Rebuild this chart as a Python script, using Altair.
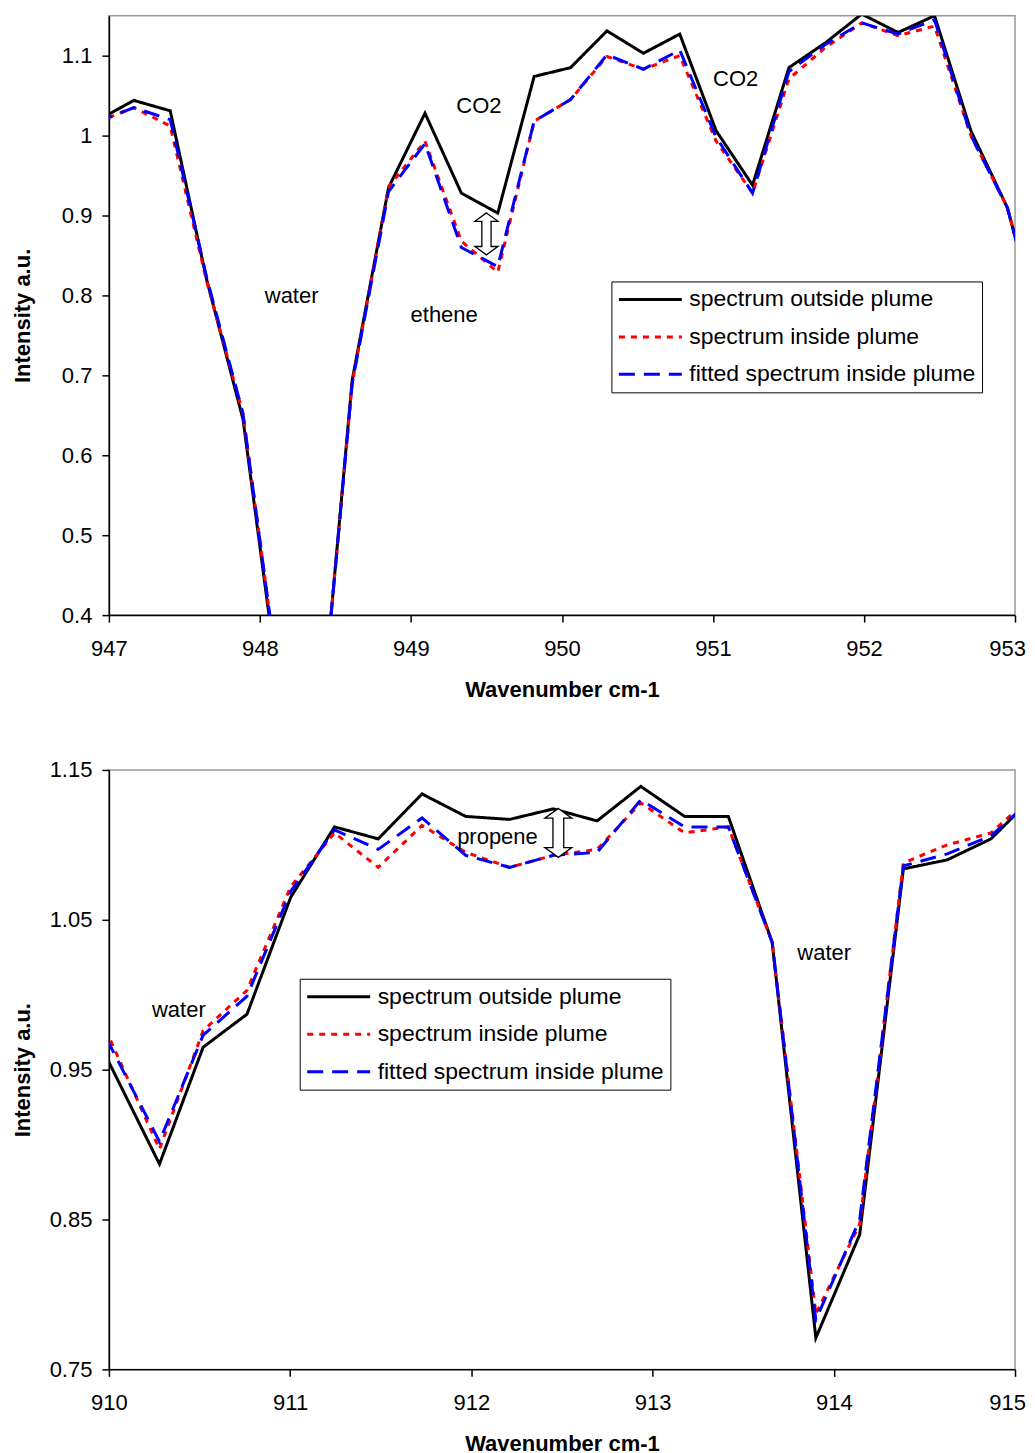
import altair as alt
import pandas as pd

# ---------------- data ----------------
series_names = ["spectrum outside plume", "spectrum inside plume", "fitted spectrum inside plume"]
series_colors = ["#000000", "#ff0000", "#0000ff"]
series_dash = [[1, 0], [6, 6], [16, 9]]

top_x = [946.924, 947.165, 947.406, 947.647, 947.888, 948.129, 948.370, 948.611, 948.852,
         949.093, 949.334, 949.575, 949.816, 950.057, 950.298, 950.539, 950.780, 951.021,
         951.262, 951.503, 951.744, 951.985, 952.226, 952.467, 952.708, 952.949, 953.190]
top_outside = [1.019, 1.044, 1.031, 0.820, 0.645, 0.302, 0.189, 0.694, 0.935,
               1.028, 0.928, 0.903, 1.074, 1.085, 1.131, 1.103, 1.127, 1.006,
               0.938, 1.085, 1.116, 1.152, 1.129, 1.150, 1.006, 0.910, 0.740]
top_inside = [1.017, 1.035, 1.012, 0.818, 0.652, 0.310, 0.190, 0.690, 0.936,
              0.993, 0.868, 0.829, 1.018, 1.045, 1.099, 1.083, 1.100, 0.993,
              0.928, 1.071, 1.110, 1.141, 1.125, 1.137, 1.000, 0.910, 0.740]
top_fitted = [1.017, 1.035, 1.020, 0.823, 0.652, 0.310, 0.190, 0.690, 0.930,
              0.990, 0.860, 0.836, 1.018, 1.045, 1.101, 1.083, 1.107, 0.998,
              0.928, 1.080, 1.114, 1.141, 1.127, 1.145, 1.000, 0.910, 0.740]

bot_x = [909.796, 910.037, 910.279, 910.520, 910.762, 911.003, 911.245, 911.486,
         911.728, 911.969, 912.211, 912.452, 912.694, 912.935, 913.177, 913.418,
         913.660, 913.901, 914.143, 914.384, 914.626, 914.867, 915.109]
bot_outside = [1.005, 0.946, 0.887, 0.965, 0.987, 1.065, 1.112, 1.104,
               1.134, 1.119, 1.117, 1.124, 1.116, 1.139, 1.119, 1.119,
               1.035, 0.771, 0.840, 1.084, 1.090, 1.104, 1.133]
bot_inside = [1.028, 0.962, 0.897, 0.976, 1.003, 1.072, 1.108, 1.085,
              1.113, 1.095, 1.085, 1.093, 1.097, 1.128, 1.108, 1.112,
              1.035, 0.787, 0.847, 1.088, 1.100, 1.108, 1.134]
bot_fitted = [1.015, 0.959, 0.902, 0.973, 0.999, 1.069, 1.110, 1.097,
              1.118, 1.093, 1.085, 1.093, 1.095, 1.130, 1.112, 1.112,
              1.035, 0.783, 0.850, 1.086, 1.094, 1.106, 1.132]

top_note_text = ["water", "ethene", "CO2", "CO2"]
top_note_x = [948.21, 949.22, 949.45, 951.15]
top_note_y = [0.799, 0.775, 1.0375, 1.071]
bot_note_text = ["water", "propene", "water"]
bot_note_x = [910.386, 912.144, 913.947]
bot_note_y = [0.990, 1.105, 1.028]

top_arrow_x = [949.50]
top_arrow_y = [0.877]
bot_arrow_x = [912.48]
bot_arrow_y = [1.108]

top_xticks = [947, 948, 949, 950, 951, 952, 953]
top_yticks = [0.4, 0.5, 0.6, 0.7, 0.8, 0.9, 1.0, 1.1]
bot_xticks = [910, 911, 912, 913, 914, 915]
bot_yticks = [0.75, 0.85, 0.95, 1.05, 1.15]

FONT = "Liberation Sans"
ARROW = ("M0,-1L0.55,-0.6L0.22,-0.6L0.22,0.6L0.55,0.6L0,1L-0.55,0.6L-0.22,0.6"
         "L-0.22,-0.6L-0.55,-0.6Z")
LEGEND_LINE = "M-1,0H5"


def long_df(xs, outside, inside, fitted):
    rows = []
    for name, vals in zip(series_names, [outside, inside, fitted]):
        for x, y in zip(xs, vals):
            rows.append({"x": x, "y": y, "series": name})
    return pd.DataFrame(rows)


def panel(xs, outside, inside, fitted, xdom, ydom, xticks, yticks, yfmt,
          lx, ly, nt, nx, ny, ax, ay, asize):
    df = long_df(xs, outside, inside, fitted)
    xenc = alt.X("x:Q",
                 scale=alt.Scale(domain=xdom, nice=False, zero=False),
                 axis=alt.Axis(values=xticks, format="d", title="Wavenumber cm-1",
                               titleY=74, titleBaseline="middle", labelFlush=False,
                               labelOverlap=False,
                               labelOffset={"condition": {"test": f"datum.value >= {xdom[1]}",
                                                          "value": -8},
                                            "value": 0},
                               labelBaseline="middle", labelPadding=26))
    yenc = alt.Y("y:Q",
                 scale=alt.Scale(domain=ydom, nice=False, zero=False),
                 axis=alt.Axis(values=yticks, format=yfmt, title="Intensity a.u.",
                               titleX=-86, titleY=300, titleBaseline="middle",
                               labelFlush=False, labelOverlap=False,
                               labelPadding=10))
    leg = alt.Legend(title=None, orient="none", legendX=lx, legendY=ly,
                     symbolType=LEGEND_LINE, symbolSize=441, symbolStrokeWidth=3,
                     labelFont=FONT, labelFontSize=23, labelColor="black",
                     labelLimit=500, labelOffset=48,
                     strokeColor="black", fillColor="white", padding=6,
                     rowPadding=13.5)
    lines = alt.Chart(df).mark_line(clip=True, strokeWidth=3).encode(
        x=xenc, y=yenc,
        color=alt.Color("series:N", sort=series_names,
                        scale=alt.Scale(domain=series_names, range=series_colors),
                        legend=leg),
        strokeDash=alt.StrokeDash("series:N", sort=series_names,
                                  scale=alt.Scale(domain=series_names, range=series_dash),
                                  legend=leg),
    )
    notes = alt.Chart(pd.DataFrame({"x": nx, "y": ny, "t": nt})).mark_text(
        font=FONT, fontSize=22, color="black").encode(x=xenc, y=yenc, text="t:N")
    arrow = alt.Chart(pd.DataFrame({"x": ax, "y": ay})).mark_point(
        shape=ARROW, filled=True, fill="white", stroke="black", strokeWidth=1.3,
        opacity=1).encode(x=xenc, y=yenc, size=alt.value(asize))
    return alt.layer(lines, notes, arrow).properties(width=907, height=600)


top = panel(top_x, top_outside, top_inside, top_fitted, [947, 953], [0.4, 1.15],
            top_xticks, top_yticks, ".1~f", 503, 266,
            top_note_text, top_note_x, top_note_y, top_arrow_x, top_arrow_y, 1764)
bottom = panel(bot_x, bot_outside, bot_inside, bot_fitted, [910, 915], [0.75, 1.15],
               bot_xticks, bot_yticks, ".2f", 191, 209,
               bot_note_text, bot_note_x, bot_note_y, bot_arrow_x, bot_arrow_y, 2401)

chart = alt.vconcat(top, bottom, spacing=57).resolve_scale(
    x="independent", y="independent", color="independent", strokeDash="independent"
).resolve_legend(color="independent", strokeDash="independent").properties(
    padding={"left": 3, "top": 6, "right": 0, "bottom": 0}
).configure_view(stroke="#999999", strokeWidth=1.5).configure_axis(
    domainColor="black", domainWidth=1.5, tickColor="black", tickWidth=1.5, tickSize=7,
    labelFont=FONT, labelFontSize=22, labelColor="black",
    titleFont=FONT, titleFontSize=22, titleFontWeight="bold", titleColor="black",
    grid=False
)

chart.save("out.html", embed_options={"renderer": "svg", "actions": False})
